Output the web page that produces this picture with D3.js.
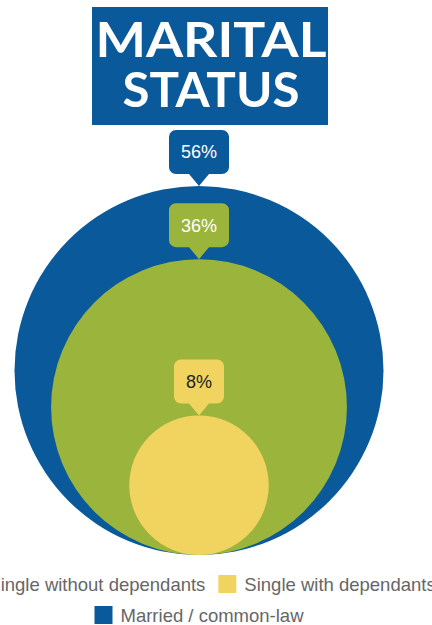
<!DOCTYPE html>
<html>
<head>
<meta charset="utf-8">
<script src="https://cdn.jsdelivr.net/npm/d3@7"></script>
<style>
  body { margin: 0; background: #fff; }
  svg { display: block; }
</style>
</head>
<body>
<div id="chart"></div>
<script>
// data
const categories = ["Married / common-law", "Single without dependants", "Single with dependants"];
const values = [56, 36, 8];
const colors = ["#0a5a9b", "#9bb43c", "#f1d35f"];
const labelColors = ["#ffffff", "#ffffff", "#222222"];
const legendRows = [
  ["Single without dependants", "Single with dependants"],
  ["Married / common-law"]
];
const titleLines = ["MARITAL", "STATUS"];

const width = 432, height = 625;
const cx = 199, baseY = 555;

const svg = d3.select("#chart").append("svg")
  .attr("width", width)
  .attr("height", height);

// title block
svg.append("rect")
  .attr("x", 92).attr("y", 7)
  .attr("width", 236).attr("height", 118)
  .attr("fill", colors[0]);

const titleW = [231, 177];
svg.selectAll(".title")
  .data(titleLines)
  .join("text")
  .attr("class", "title")
  .attr("x", (d, i) => 211 - titleW[i] / 2)
  .attr("y", (d, i) => 57 + i * 50)
  .attr("textLength", (d, i) => titleW[i])
  .attr("lengthAdjust", "spacingAndGlyphs")
  .attr("fill", "#fff")
  .style("font-family", "Lato, sans-serif")
  .style("font-weight", 700)
  .style("font-size", "48px")
  .text(d => d);

// nested circles, area ~ value, all resting on the same baseline
const r = d3.scaleSqrt().domain([0, d3.max(values)]).range([0, 184.5]);

const data = categories.map((c, i) => ({name: c, value: values[i], color: colors[i], label: labelColors[i]}));

svg.selectAll(".bubble")
  .data(data)
  .join("circle")
  .attr("class", "bubble")
  .attr("cx", cx)
  .attr("cy", d => baseY - r(d.value))
  .attr("r", d => r(d.value))
  .attr("fill", d => d.color);

// callouts sitting on top of each circle
const boxH = 44, tipH = 12, tipW = 20, rad = 7;
const callouts = svg.selectAll(".callout")
  .data(data)
  .join("g")
  .attr("class", "callout")
  .attr("transform", d => `translate(${cx},${baseY - 2 * r(d.value)})`);

callouts.each(function (d) {
  const g = d3.select(this);
  const t = g.append("text")
    .attr("x", 0)
    .attr("y", -tipH - boxH / 2)
    .attr("dy", "0.36em")
    .attr("text-anchor", "middle")
    .attr("fill", d.label)
    .style("font-family", "'Liberation Sans', Arial, sans-serif")
    .style("font-size", "18px")
    .text(d.value + "%");
  const w = t.node().getComputedTextLength() + 24;
  const x0 = -w / 2, x1 = w / 2, y1 = -tipH, y0 = -tipH - boxH;
  const p = d3.path();
  p.moveTo(x0 + rad, y0);
  p.lineTo(x1 - rad, y0);
  p.arcTo(x1, y0, x1, y0 + rad, rad);
  p.lineTo(x1, y1 - rad);
  p.arcTo(x1, y1, x1 - rad, y1, rad);
  p.lineTo(tipW / 2, y1);
  p.lineTo(0, 0);
  p.lineTo(-tipW / 2, y1);
  p.lineTo(x0 + rad, y1);
  p.arcTo(x0, y1, x0, y1 - rad, rad);
  p.lineTo(x0, y0 + rad);
  p.arcTo(x0, y0, x0 + rad, y0, rad);
  p.closePath();
  g.insert("path", "text").attr("d", p.toString()).attr("fill", d.color);
});

// legend
const color = d3.scaleOrdinal().domain(categories).range(colors);
const sq = 18, gapIn = 8, gapOut = 13;
legendRows.forEach((row, ri) => {
  const rowY = 575 + ri * 31;
  const lg = svg.append("g");
  let x = 0;
  row.forEach(name => {
    lg.append("rect")
      .attr("x", x).attr("y", rowY)
      .attr("width", sq).attr("height", sq)
      .attr("fill", color(name));
    const t = lg.append("text")
      .attr("x", x + sq + gapIn)
      .attr("y", rowY + 15.5)
      .attr("fill", "#666")
      .style("font-family", "'Liberation Sans', Arial, sans-serif")
      .style("font-size", "18.5px")
      .text(name);
    x += sq + gapIn + t.node().getComputedTextLength() + gapOut;
  });
  const total = x - gapOut;
  lg.attr("transform", `translate(${199 - total / 2},0)`);
});
</script>
</body>
</html>
